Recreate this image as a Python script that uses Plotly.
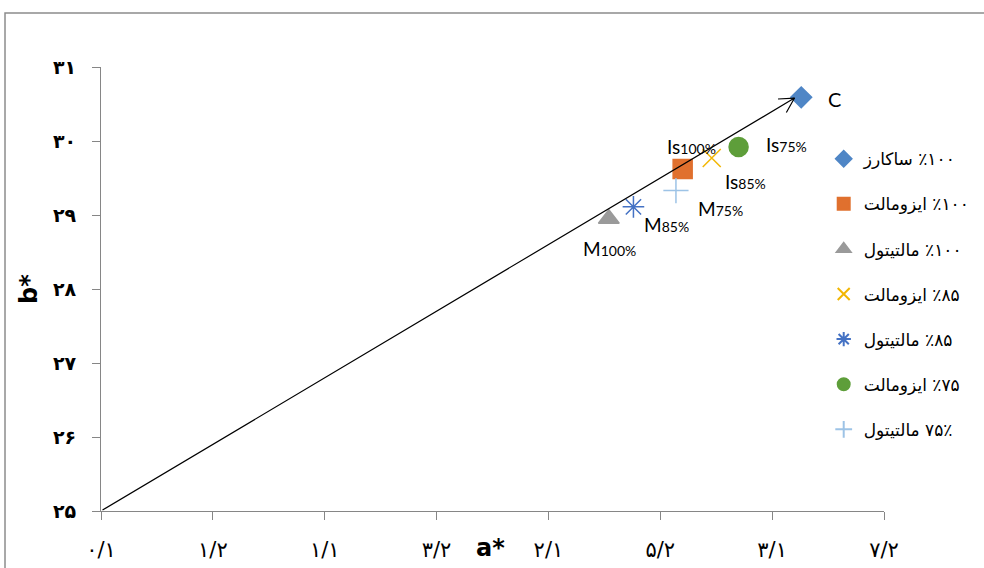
import plotly.graph_objects as go

# ---- data ----
series_names = ["ساکارز \u200e٪۱۰۰", "ایزومالت \u200e٪۱۰۰", "مالتیتول \u200e٪۱۰۰",
                "ایزومالت \u200e٪۸۵", "مالتیتول \u200e٪۸۵", "ایزومالت \u200e٪۷۵",
                "مالتیتول \u200e۷۵٪"]
a_values = [3.13, 2.60, 2.27, 2.73, 2.38, 2.85, 2.57]
b_values = [30.59, 29.62, 28.95, 29.77, 29.11, 29.92, 29.33]
point_labels = ["C", "Is100%", "M100%", "Is85%", "M85%", "Is75%", "M75%"]

x_tickvals = [0, 0.5, 1, 1.5, 2, 2.5, 3, 3.5]
x_ticktext = ["۰/۱", "۱/۲", "۱/۱", "۳/۲", "۲/۱", "۵/۲", "۳/۱", "۷/۲"]
y_tickvals = [25, 26, 27, 28, 29, 30, 31]
y_ticktext = ["۲۵", "۲۶", "۲۷", "۲۸", "۲۹", "۳۰", "۳۱"]

arrow_start = (0, 25)
arrow_end = (3.10, 30.58)

# ---- styles ----
symbols = ["diamond", "square", "triangle-up", "x-thin-open", "asterisk-open",
           "circle", "cross-thin-open"]
colors = ["#4F86C6", "#E0702E", "#9A9A9A", "#F2B705", "#4472C4", "#5E9E3A", "#9DC3E6"]
sizes = [16, 19, 18, 18, 18, 19, 18]
label_shift = [(33, -2), (9, 23), (1, -30), (34, -23), (33, -18), (48, 2), (45, -18)]

fig = go.Figure()
for i in range(len(series_names)):
    fig.add_trace(go.Scatter(
        x=[a_values[i]], y=[b_values[i]], mode="markers", name=series_names[i],
        legendgroup=f"g{i}",
        marker=dict(symbol=symbols[i], color=colors[i], size=sizes[i],
                    line=dict(color=colors[i], width=1.5)),
    ))

latin = "Lato, Liberation Sans, sans-serif"
for i, lab in enumerate(point_labels):
    if lab == "C":
        txt = "C"
        fsz = 20
    else:
        head = "Is" if lab.startswith("Is") else "M"
        txt = head + "<span style='font-size:14px'>" + lab[len(head):] + "</span>"
        fsz = 19
    dx, dy = label_shift[i]
    fig.add_annotation(x=a_values[i], y=b_values[i], xref="x", yref="y", text=txt,
                       showarrow=False, xshift=dx, yshift=dy,
                       font=dict(family=latin, size=fsz, color="#000000"))

# arrow shaft
fig.add_annotation(x=arrow_end[0], y=arrow_end[1], ax=arrow_start[0], ay=arrow_start[1],
                   xref="x", yref="y", axref="x", ayref="y", text="",
                   showarrow=True, arrowhead=0, arrowwidth=1.2, arrowcolor="#000000")
# open arrow head (two short strokes, pixel offsets from the tip)
for hx, hy in [(-18, 1), (-9, 16)]:
    fig.add_annotation(x=arrow_end[0], y=arrow_end[1], xref="x", yref="y",
                       ax=hx, ay=hy, axref="pixel", ayref="pixel", text="",
                       showarrow=True, arrowhead=0, arrowwidth=1.2, arrowcolor="#000000")

fig.add_annotation(x=0.497, y=-0.083, xref="paper", yref="paper", text="<b>a*</b>",
                   showarrow=False, font=dict(family="DejaVu Sans", size=24, color="#000"),
                   xanchor="center", yanchor="middle")
fig.add_annotation(x=-0.092, y=0.5, xref="paper", yref="paper", text="<b>b*</b>",
                   showarrow=False, textangle=-90,
                   font=dict(family="DejaVu Sans", size=24, color="#000"),
                   xanchor="center", yanchor="middle")

fig.add_shape(type="rect", xref="paper", yref="paper", x0=-0.1226, x1=1.6,
              y0=-0.6, y1=1.1216, line=dict(color="#8C8C8C", width=1.5), layer="below")

fig.update_xaxes(range=[0, 3.5], tickvals=x_tickvals, ticktext=x_ticktext,
                 showgrid=False, zeroline=False, showline=True, linecolor="#868686",
                 linewidth=1.2, ticks="outside", ticklen=8, tickcolor="#868686",
                 ticklabelstandoff=12, automargin=False,
                 tickfont=dict(family="DejaVu Sans", size=21, color="#000"))
fig.update_yaxes(range=[25, 31], tickvals=y_tickvals, ticktext=y_ticktext,
                 showgrid=False, zeroline=False, showline=True, linecolor="#868686",
                 linewidth=1.2, ticks="outside", ticklen=8, tickcolor="#868686",
                 ticklabelstandoff=12, automargin=False,
                 tickfont=dict(family="DejaVu Sans", size=19, color="#000", weight="bold"))

fig.update_layout(
    width=984, height=568,
    margin=dict(l=101, r=100, t=67, b=57, autoexpand=False),
    plot_bgcolor="#FFFFFF", paper_bgcolor="#FFFFFF",
    showlegend=True,
    legend=dict(x=0.923, y=0.833, xanchor="left", yanchor="top",
                bgcolor="rgba(0,0,0,0)", tracegroupgap=20, itemsizing="constant",
                font=dict(family="DejaVu Sans", size=17, color="#000")),
)

fig.write_html("out.html", config={"displayModeBar": False},
               post_script="document.body.style.margin='0';"
                           "document.body.style.overflow='hidden';")
